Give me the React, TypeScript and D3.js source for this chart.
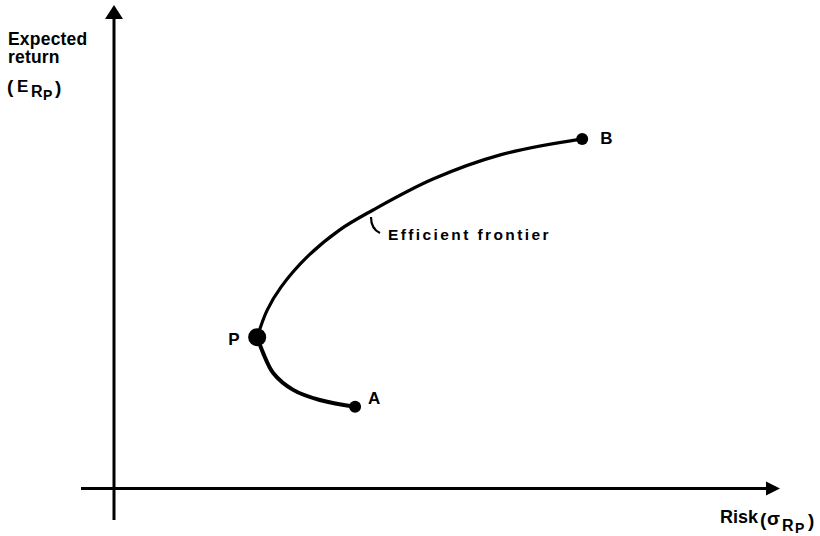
import React from "react";
import * as d3 from "d3";

// Efficient frontier (risk, expected return) in abstract units
const upperRisk = [21.5, 23.0, 25.1, 29.0, 33.9, 38.9, 47.9, 58.0, 70.3];
const upperReturn = [31.3, 36.9, 41.7, 47.9, 53.5, 57.6, 64.0, 69.0, 72.3];
const lowerRisk = [21.5, 22.4, 23.9, 26.9, 30.9, 36.2];
const lowerReturn = [31.3, 28.0, 23.9, 20.4, 18.3, 16.9];
const pointNames = ["P", "A", "B"];
const pointRisk = [21.5, 36.2, 70.3];
const pointReturn = [31.3, 16.9, 72.3];
const pointRadius = [9, 6, 6];

const W = 820;
const H = 536;

export default function App() {
  const x = d3.scaleLinear().domain([0, 100]).range([114, 780]);
  const y = d3.scaleLinear().domain([0, 100]).range([488.5, 5]);
  const line = d3
    .line<[number, number]>()
    .x((d) => x(d[0]))
    .y((d) => y(d[1]))
    .curve(d3.curveCatmullRom.alpha(0.5));
  const upper = upperRisk.map((r, i) => [r, upperReturn[i]] as [number, number]);
  const lower = lowerRisk.map((r, i) => [r, lowerReturn[i]] as [number, number]);
  const x0 = x(0);
  const y0 = y(0);
  const font = "'Liberation Sans', Arial, sans-serif";
  const labelOffsets: Record<string, [number, number]> = {
    P: [-29, 8],
    A: [13, -3],
    B: [18, 5],
  };
  return (
    <svg
      width={W}
      height={H}
      style={{ position: "absolute", left: 0, top: 0, background: "#fff" }}
      fontFamily={font}
      fontWeight="bold"
    >
      <rect width={W} height={H} fill="#fff" />
      {/* axes */}
      <line x1={x0} y1={520} x2={x0} y2={17} stroke="#000" strokeWidth={3} />
      <path d={`M${x0 - 9},19 L${x0},5 L${x0 + 9},19 Z`} fill="#000" />
      <line x1={81} y1={y0} x2={768} y2={y0} stroke="#000" strokeWidth={3} />
      <path d={`M766,${y0 - 7} L780,${y0} L766,${y0 + 7} Z`} fill="#000" />

      {/* frontier */}
      <path d={line(upper) || ""} fill="none" stroke="#000" strokeWidth={3.2} />
      <path d={line(lower) || ""} fill="none" stroke="#000" strokeWidth={4} />

      {pointNames.map((n, i) => (
        <g key={n}>
          <circle cx={x(pointRisk[i])} cy={y(pointReturn[i])} r={pointRadius[i]} fill="#000" />
          <text
            x={x(pointRisk[i]) + labelOffsets[n][0]}
            y={y(pointReturn[i]) + labelOffsets[n][1]}
            fontSize={17}
          >
            {n}
          </text>
        </g>
      ))}

      {/* efficient frontier label */}
      <path d="M371,217 Q371,229 380,233" fill="none" stroke="#000" strokeWidth={2.2} />
      <text x={388} y={240} fontSize={15.5} letterSpacing={2.4}>
        Efficient frontier
      </text>

      {/* y axis label */}
      <text x={8} y={45} fontSize={17.5} letterSpacing={0.2}>Expected</text>
      <text x={8} y={63} fontSize={17.5} letterSpacing={0.2}>return</text>
      <text x={7} y={93} fontSize={19}>(</text>
      <text x={17} y={92} fontSize={17}>E</text>
      <text x={31} y={97} fontSize={16}>R</text>
      <text x={43} y={100} fontSize={14}>P</text>
      <text x={55} y={94} fontSize={19}>)</text>

      {/* x axis label */}
      <text x={720} y={523} fontSize={18}>Risk</text>
      <text x={760} y={526} fontSize={19}>(</text>
      <text x={767} y={525} fontSize={19}>σ</text>
      <text x={782} y={531} fontSize={16}>R</text>
      <text x={795} y={533} fontSize={14}>P</text>
      <text x={808} y={527} fontSize={19}>)</text>
    </svg>
  );
}
